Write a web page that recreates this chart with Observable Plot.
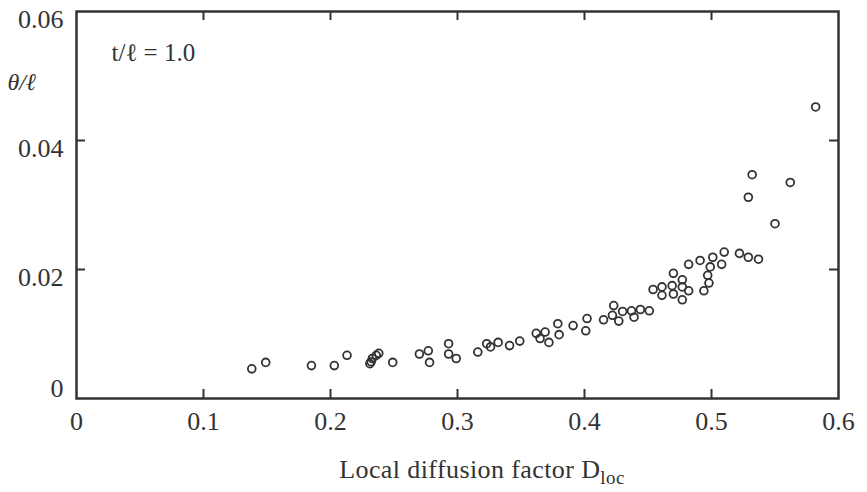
<!DOCTYPE html>
<html>
<head>
<meta charset="utf-8">
<script src="https://cdn.jsdelivr.net/npm/d3@7"></script>
<script src="https://cdn.jsdelivr.net/npm/@observablehq/plot@0.6"></script>
<style>
  html, body { margin: 0; padding: 0; background: #fff; }
  #chart svg { display: block; }
  #chart svg text { font-family: "Liberation Serif", "DejaVu Serif", serif !important; }
</style>
</head>
<body>
<div id="chart"></div>
<script>
// Local diffusion factor D_loc
const dloc = [
  0.138, 0.149, 0.185, 0.203, 0.213, 0.231, 0.232, 0.233, 0.236, 0.238,
  0.249, 0.270, 0.277, 0.278, 0.293, 0.293, 0.299, 0.316, 0.323, 0.326,
  0.332, 0.341, 0.349, 0.362, 0.369, 0.365, 0.372, 0.379, 0.380, 0.391,
  0.402, 0.401, 0.415, 0.423, 0.422, 0.427, 0.430, 0.437, 0.439, 0.444,
  0.451, 0.454, 0.461, 0.461, 0.470, 0.469, 0.470, 0.477, 0.477, 0.482,
  0.477, 0.482, 0.491, 0.501, 0.499, 0.508, 0.510, 0.497, 0.498, 0.494,
  0.522, 0.529, 0.537, 0.529, 0.532, 0.550, 0.562, 0.582
];
// Momentum thickness ratio theta/l
const thetaL = [
  0.0046, 0.0056, 0.0051, 0.0051, 0.0067, 0.0054, 0.0057, 0.0062, 0.0067, 0.0070,
  0.0056, 0.0069, 0.0074, 0.0056, 0.0085, 0.0069, 0.0062, 0.0072, 0.0085, 0.0080,
  0.0087, 0.0082, 0.0089, 0.0101, 0.0103, 0.0093, 0.0087, 0.0116, 0.0099, 0.0113,
  0.0124, 0.0105, 0.0122, 0.0144, 0.0129, 0.0120, 0.0135, 0.0136, 0.0126, 0.0138,
  0.0136, 0.0169, 0.0173, 0.0160, 0.0194, 0.0175, 0.0162, 0.0184, 0.0173, 0.0167,
  0.0153, 0.0208, 0.0214, 0.0219, 0.0204, 0.0208, 0.0227, 0.0191, 0.0179, 0.0167,
  0.0225, 0.0219, 0.0216, 0.0312, 0.0347, 0.0271, 0.0335, 0.0452
];
const xTickLabels = [0, 0.1, 0.2, 0.3, 0.4, 0.5, 0.6];
const xTickMarks = [0.1, 0.2, 0.3, 0.4, 0.5];
const yTickLabels = [0.02, 0.04, 0.06];
const yZeroLabel = [0];
const yTickMarks = [0.02, 0.04];
const annotation = "t/\u2113 = 1.0";
const yTitle = "\u03B8/\u2113";
const xTitle = "Local diffusion factor D";
const xTitleSub = "loc";

const data = dloc.map((d, i) => ({x: d, y: thetaL[i]}));

const W = 867, H = 492;
const mL = 76, mR = 29, mT = 11, mB = 94;
const fw = W - mL - mR, fh = H - mT - mB;
const ink = "#333";
const tickLen = 9;
const serif = "Liberation Serif";
const yFmt = d => d === 0 ? "0" : d.toFixed(2);

const plot = Plot.plot({
  width: W, height: H,
  marginLeft: mL, marginRight: mR, marginTop: mT, marginBottom: mB,
  x: {domain: [0, 0.6]},
  y: {domain: [0, 0.06]},
  style: {fontFamily: serif, color: ink, background: "#fff"},
  marks: [
    Plot.tickX(xTickMarks, {x: d => d, insetTop: fh - tickLen, stroke: ink, strokeWidth: 2}),
    Plot.tickX(xTickMarks, {x: d => d, insetBottom: fh - tickLen, stroke: ink, strokeWidth: 2}),
    Plot.tickY(yTickMarks, {y: d => d, insetRight: fw - tickLen, stroke: ink, strokeWidth: 2}),
    Plot.tickY(yTickMarks, {y: d => d, insetLeft: fw - tickLen, stroke: ink, strokeWidth: 2}),
    Plot.frame({stroke: ink, strokeWidth: 2.5}),
    Plot.axisX(xTickLabels, {tickSize: 0, tickPadding: 13, fontSize: 26, fontFamily: serif, label: null,
      tickFormat: d => d === 0 ? "0" : d.toFixed(1)}),
    Plot.axisY(yTickLabels, {tickSize: 0, tickPadding: 13, fontSize: 26, fontFamily: serif, label: null, dy: 8,
      tickFormat: yFmt}),
    Plot.axisY(yZeroLabel, {tickSize: 0, tickPadding: 13, fontSize: 26, fontFamily: serif, label: null, dy: -10,
      tickFormat: yFmt}),
    Plot.dot(data, {x: "x", y: "y", r: 3.9, stroke: ink, strokeWidth: 1.8, fill: "none"}),
    Plot.text([annotation], {frameAnchor: "top-left", dx: 35, dy: 41, text: d => d, fontFamily: serif,
      textAnchor: "start", lineAnchor: "middle", fontSize: 25, fill: ink}),
    Plot.text([yTitle], {frameAnchor: "top-left", dx: -69, dy: 71, text: d => d, fontFamily: serif,
      textAnchor: "start", lineAnchor: "middle", fontSize: 24, fontStyle: "italic", fill: ink})
  ]
});

document.getElementById("chart").appendChild(plot);

const svg = d3.select(plot);
svg.selectAll("text").attr("font-family", serif).style("font-family", "'Liberation Serif', serif");

// x-axis title with subscript
const xs = plot.scale("x");
const t = svg.append("text")
  .attr("x", xs.apply(0.3) + 25)
  .attr("y", H - 14)
  .attr("text-anchor", "middle")
  .attr("font-size", 26)
  .attr("letter-spacing", 0.4)
  .attr("font-family", serif)
  .attr("fill", ink);
t.append("tspan").text(xTitle);
t.append("tspan").attr("font-size", 19).attr("dy", 6).text(xTitleSub);
</script>
</body>
</html>
